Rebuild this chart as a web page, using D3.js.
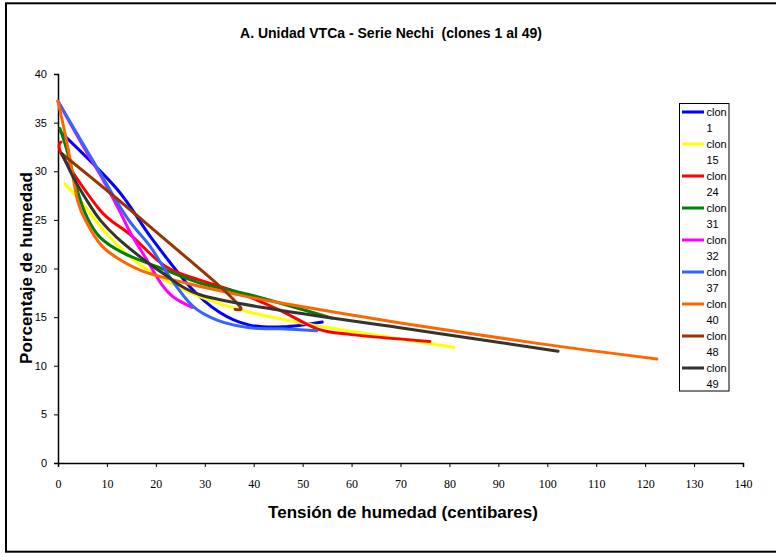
<!DOCTYPE html>
<html><head><meta charset="utf-8">
<script src="https://cdn.jsdelivr.net/npm/d3@7"></script>
<style>body{margin:0;background:#fff}svg{display:block}</style>
</head><body>
<script>
const title = "A. Unidad VTCa - Serie Nechi  (clones 1 al 49)";
const xLabel = "Tensión de humedad (centibares)";
const yLabel = "Porcentaje de humedad";
const xTicks = [0,10,20,30,40,50,60,70,80,90,100,110,120,130,140];
const yTicks = [0,5,10,15,20,25,30,35,40];
const seriesNames = ["clon 1","clon 15","clon 24","clon 31","clon 32","clon 37","clon 40","clon 48","clon 49"];
const seriesColors = ["#0000FF","#FFFF00","#FF0000","#008000","#FF00FF","#3366FF","#FF6600","#993300","#333333"];
const clon1  = [[0.6,34],[12,28.2],[19,23.2],[27,18.1],[33,15.5],[39,14.2],[46,14],[54,14.5]];
const clon15 = [[1.4,28.7],[5,26.7],[9.2,24],[14.7,21.2],[20.8,19.1],[29,17.1],[39.2,15.5],[54.2,14],[80.9,11.9]];
const clon24 = [[0.6,33],[0.9,31.6],[8.6,26],[14.7,23.5],[22,20.2],[29,18.8],[37,17.5],[45.4,15.7],[53,13.8],[60,13.2],[76,12.5]];
const clon31 = [[0.4,34.4],[1.8,32.2],[3.9,28.1],[5.9,25.3],[8.6,23.2],[13.3,21.6],[20.2,20.2],[29,18.5],[39.2,17.3],[56,14.9]];
const clon32 = [[0,37.2],[5,32.7],[9,29.3],[12.5,26],[15,23.5],[18.5,20.6],[21,18.5],[23.5,17.1],[27.4,16]];
const clon37 = [[0,37.2],[7,31.2],[14,25.3],[18.8,22.3],[23,19],[27.6,16.1],[32.5,14.7],[39.2,13.9],[45.4,13.8],[52.9,13.6]];
const clon40 = [[0,37.2],[2,32.5],[4,27],[6,24.6],[9,22.3],[13,20.8],[18,19.6],[27,18.4],[35,17.5],[45,16.5],[70,14.4],[98,12.3],[122.4,10.7]];
const clon48 = [[0.8,31.8],[12,27.2],[20,23.8],[27,20.8],[33,18.2],[37.3,16.0],[36.2,15.8]];
const clon49 = [[0.8,31.8],[3.1,29.4],[5.9,27],[8.6,25],[12,23.2],[16.8,21.2],[21.5,19.5],[29,17.3],[45.4,15.7],[69.9,13.9],[102.2,11.5]];
const seriesData = [clon1,clon15,clon24,clon31,clon32,clon37,clon40,clon48,clon49];

const W=776,H=553;
const SANS="'Liberation Sans', Arial, sans-serif";
const SERIF="'Liberation Serif', 'Times New Roman', 'DejaVu Serif', serif";
const svg=d3.select("body").append("svg").attr("width",W).attr("height",H);
svg.append("rect").attr("x",6).attr("y",3.3).attr("width",790).attr("height",548.4)
  .attr("fill","#fff").attr("stroke","#000").attr("stroke-width",2);

const x=d3.scaleLinear().domain([0,140]).range([58,743]);
const y=d3.scaleLinear().domain([0,40]).range([463,74]);

svg.append("text").attr("x",391).attr("y",38).attr("text-anchor","middle")
  .style("font-family",SANS).style("font-weight","bold").style("font-size","14px")
  .style("white-space","pre").attr("xml:space","preserve").text(title);

const gx=svg.append("g").attr("transform","translate(0,463)")
  .call(d3.axisBottom(x).tickValues(xTicks).tickSize(4).tickPadding(12).tickFormat(d3.format("d")));
gx.attr("font-family",SERIF).attr("font-size",12);
gx.selectAll("text").style("font-family",SERIF).style("font-size","12px").attr("fill","#000");
gx.select(".domain").attr("stroke","#000").attr("stroke-width",1.5);
gx.selectAll(".tick line").attr("stroke","#000");

const gy=svg.append("g").attr("transform","translate(58,0)")
  .call(d3.axisLeft(y).tickValues(yTicks).tickSize(4).tickPadding(7).tickFormat(d3.format("d")));
gy.attr("font-family",SANS).attr("font-size",11);
gy.selectAll("text").style("font-family",SANS).style("font-size","11px").attr("fill","#000");
gy.select(".domain").attr("stroke","#000").attr("stroke-width",1.5);
gy.selectAll(".tick line").attr("stroke","#000");

svg.append("text").attr("x",403).attr("y",518).attr("text-anchor","middle")
  .style("font-family",SANS).style("font-weight","bold").style("font-size","17px").text(xLabel);
svg.append("text").attr("transform","translate(32,268) rotate(-90)").attr("text-anchor","middle")
  .style("font-family",SANS).style("font-weight","bold").style("font-size","17px").text(yLabel);

const line=d3.line().x(d=>x(d[0])).y(d=>y(d[1])).curve(d3.curveCatmullRom.alpha(0));
seriesData.forEach((s,i)=>{
  svg.append("path").datum(s).attr("d",line).attr("fill","none")
    .attr("stroke",seriesColors[i]).attr("stroke-width",3).attr("stroke-linecap","round").attr("stroke-linejoin","round");
});

const lg=svg.append("g");
lg.append("rect").attr("x",679.5).attr("y",103.5).attr("width",49.5).attr("height",287.5)
  .attr("fill","#fff").attr("stroke","#000").attr("stroke-width",1);
seriesNames.forEach((n,i)=>{
  const yy=112+32*i;
  lg.append("line").attr("x1",682).attr("x2",704).attr("y1",yy).attr("y2",yy)
    .attr("stroke",seriesColors[i]).attr("stroke-width",3);
  const parts=n.split(" ");
  lg.append("text").attr("x",706.5).attr("y",yy+4).style("font-family",SANS)
    .style("font-size","11px").text(parts[0]);
  lg.append("text").attr("x",706.5).attr("y",yy+19.5).style("font-family",SANS)
    .style("font-size","11px").text(parts[1]);
});
</script>
</body></html>
